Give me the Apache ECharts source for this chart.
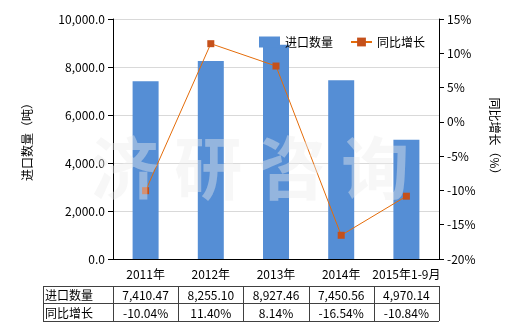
<!DOCTYPE html>
<html>
<head>
<meta charset="utf-8">
<script src="https://cdn.jsdelivr.net/npm/echarts@6/dist/echarts.min.js"></script>
<style>
html, body { margin: 0; padding: 0; background: #fff; }
#main { width: 520px; height: 330px; }
</style>
</head>
<body>
<div id="main"></div>
<script>
// 进口数量 / 同比增长
var years = ['2011年', '2012年', '2013年', '2014年', '2015年1-9月'];
var qty = [7410.47, 8255.10, 8927.46, 7450.56, 4970.14];
var growth = [-10.04, 11.40, 8.14, -16.54, -10.84];
var qtyText = ['7,410.47', '8,255.10', '8,927.46', '7,450.56', '4,970.14'];
var growthText = ['-10.04%', '11.40%', '8.14%', '-16.54%', '-10.84%'];
var rowNames = ['进口数量', '同比增长'];

var font = '"Noto Sans CJK SC", "Noto Sans", sans-serif';
var gl = 113, gr = 439, gt = 19, gb = 259;
var cw = (gr - gl) / years.length;
var tableLeft = 43, rowY = [286, 303, 321];

var chart = echarts.init(document.getElementById('main'));

// 表格
var graphics = [];
var lineStyle = { stroke: '#404040', lineWidth: 1 };
rowY.forEach(function (y) {
    graphics.push({ type: 'line', shape: { x1: tableLeft, y1: y + 0.5, x2: gr, y2: y + 0.5 }, style: lineStyle, silent: true });
});
var cols = [tableLeft];
for (var i = 0; i <= years.length; i++) cols.push(Math.round(gl + cw * i));
cols.forEach(function (x) {
    graphics.push({ type: 'line', shape: { x1: x + 0.5, y1: rowY[0], x2: x + 0.5, y2: rowY[2] }, style: lineStyle, silent: true });
});
var rows = [qtyText, growthText];
rows.forEach(function (vals, r) {
    var cy = (rowY[r] + rowY[r + 1]) / 2 + 1;
    graphics.push({ type: 'text', x: tableLeft + 2, y: cy, style: { text: rowNames[r], font: '12px ' + font, fill: '#000', verticalAlign: 'middle', align: 'left' } });
    vals.forEach(function (v, c) {
        graphics.push({ type: 'text', x: gl + cw * (c + 0.5), y: cy, style: { text: v, font: '12px ' + font, fill: '#000', verticalAlign: 'middle', align: 'center' } });
    });
});
// 水印
graphics.push({
    type: 'text', x: 250, y: 168, z: 100, silent: true,
    style: { text: '济 研 咨 询', font: 'bold 68px ' + font, fill: 'rgba(235,235,235,0.42)', align: 'center', verticalAlign: 'middle' }
});

var option = {
    animation: false,
    textStyle: { fontFamily: font },
    grid: { left: gl, right: 520 - gr, top: gt, bottom: 330 - gb },
    legend: {
        left: 254, top: 31,
        itemWidth: 21, itemHeight: 11, itemGap: 17,
        textStyle: { fontSize: 12, color: '#000' },
        data: [
            { name: '进口数量', icon: 'rect' },
            { name: '同比增长' }
        ]
    },
    xAxis: {
        type: 'category',
        data: years,
        axisLine: { lineStyle: { color: '#000', width: 1 } },
        axisTick: { alignWithLabel: true, length: 5, lineStyle: { color: '#000' } },
        axisLabel: { color: '#000', fontSize: 12, margin: 9, interval: 0 }
    },
    yAxis: [{
        type: 'value',
        min: 0, max: 10000, interval: 2000,
        name: '进口数量（吨）',
        nameLocation: 'middle', nameRotate: 90, nameGap: 80,
        nameTextStyle: { color: '#000', fontSize: 12 },
        axisLine: { show: true, lineStyle: { color: '#000', width: 1 } },
        axisTick: { show: true, length: 5, lineStyle: { color: '#000' } },
        axisLabel: {
            color: '#000', fontSize: 12, margin: 8,
            formatter: function (v) { return v.toLocaleString('en-US', { minimumFractionDigits: 1, maximumFractionDigits: 1 }); }
        },
        splitLine: { lineStyle: { color: '#d9d9d9' } }
    }, {
        type: 'value',
        min: -20, max: 15, interval: 5,
        name: '同比增长（%）',
        nameLocation: 'middle', nameRotate: -90, nameGap: 50,
        nameTextStyle: { color: '#000', fontSize: 12 },
        axisLine: { show: true, lineStyle: { color: '#000', width: 1 } },
        axisTick: { show: true, length: 5, lineStyle: { color: '#000' } },
        axisLabel: { color: '#000', fontSize: 12, margin: 8, formatter: '{value}%' },
        splitLine: { show: false }
    }],
    series: [{
        name: '进口数量',
        type: 'bar',
        data: qty,
        barWidth: 26,
        itemStyle: { color: '#558ed5' }
    }, {
        name: '同比增长',
        type: 'line',
        yAxisIndex: 1,
        data: growth,
        symbol: 'rect',
        symbolSize: 7,
        lineStyle: { color: '#e46c0a', width: 1 },
        itemStyle: { color: '#c5501a' }
    }],
    graphic: graphics
};
chart.setOption(option);
</script>
</body>
</html>
